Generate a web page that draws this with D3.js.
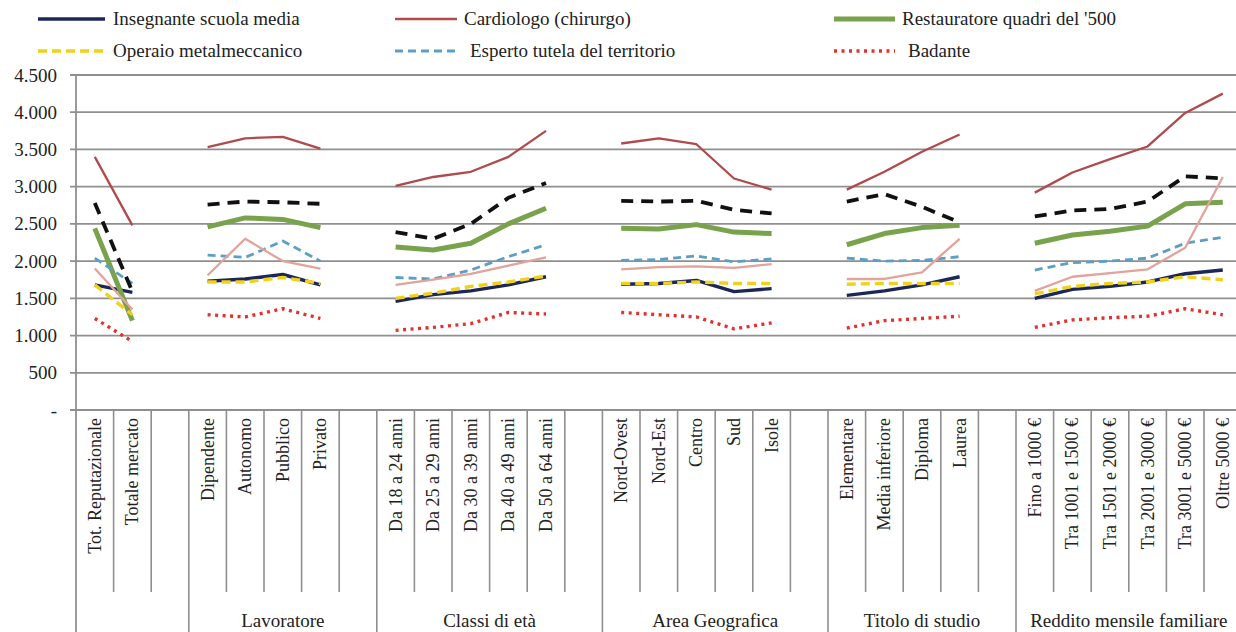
<!DOCTYPE html>
<html>
<head>
<meta charset="utf-8">
<script src="https://cdn.jsdelivr.net/npm/d3@7"></script>
<style>
  html, body { margin: 0; padding: 0; background: #fff; }
  svg { display: block; font-family: "Liberation Serif", "DejaVu Serif", serif; }
</style>
</head>
<body>
<svg id="chart" width="1236" height="632"></svg>
<script>
// Categories along the x axis ("" marks an empty spacer slot between groups)
const categories = [
  "Tot. Reputazionale", "Totale mercato", "",
  "Dipendente", "Autonomo", "Pubblico", "Privato", "",
  "Da 18 a 24 anni", "Da 25 a 29 anni", "Da 30 a 39 anni", "Da 40 a 49 anni", "Da 50 a 64 anni", "",
  "Nord-Ovest", "Nord-Est", "Centro", "Sud", "Isole", "",
  "Elementare", "Media inferiore", "Diploma", "Laurea", "",
  "Fino a 1000 €", "Tra 1001 e 1500 €", "Tra 1501 e 2000 €", "Tra 2001 e 3000 €", "Tra 3001 e 5000 €", "Oltre 5000 €"
];
const groupLabels = ["", "Lavoratore", "Classi di età", "Area Geografica", "Titolo di studio", "Reddito mensile familiare"];
const groupSizes = [3, 5, 6, 6, 5, 6];

const yTicks = [0, 500, 1000, 1500, 2000, 2500, 3000, 3500, 4000, 4500];

// Series values (null = spacer, no point)
const insegnante   = [1680,1580,null, 1730,1760,1820,1680,null, 1460,1550,1600,1680,1790,null, 1690,1700,1740,1590,1630,null, 1540,1600,1680,1790,null, 1500,1620,1660,1720,1830,1880];
const cardiologo   = [3400,2480,null, 3530,3650,3670,3510,null, 3010,3130,3200,3400,3750,null, 3580,3650,3570,3110,2960,null, 2960,3200,3470,3700,null, 2920,3190,3370,3540,3990,4250];
const restauratore = [2440,1200,null, 2460,2580,2560,2450,null, 2190,2150,2240,2500,2710,null, 2440,2430,2490,2390,2370,null, 2220,2370,2450,2480,null, 2240,2350,2400,2470,2770,2790];
const operaio      = [1680,1280,null, 1720,1720,1780,1700,null, 1500,1570,1660,1720,1800,null, 1700,1700,1720,1700,1700,null, 1690,1700,1700,1700,null, 1560,1660,1700,1720,1790,1750];
const esperto      = [2040,1700,null, 2080,2050,2270,2000,null, 1780,1760,1880,2060,2220,null, 2010,2020,2070,1990,2030,null, 2040,2000,2010,2060,null, 1880,1980,2000,2040,2240,2320];
const badante      = [1230,920,null, 1280,1250,1360,1230,null, 1070,1110,1160,1310,1290,null, 1310,1280,1250,1090,1170,null, 1100,1200,1230,1260,null, 1110,1210,1240,1260,1360,1280];
const serieNera    = [2780,1590,null, 2760,2800,2790,2770,null, 2390,2300,2500,2850,3050,null, 2810,2800,2810,2690,2640,null, 2800,2900,2730,2520,null, 2600,2680,2700,2800,3140,3110];
const serieRosa    = [1900,1350,null, 1810,2300,2000,1900,null, 1680,1750,1830,1940,2050,null, 1890,1920,1930,1910,1960,null, 1760,1760,1850,2300,null, 1600,1790,1840,1890,2180,3130];

// Series drawing table (first six appear in the legend)
const series = [
  { name: "Insegnante scuola media",       values: insegnante,   color: "#1c2757", width: 3.4, dash: null,    legend: [0, 0] },
  { name: "Cardiologo (chirurgo)",         values: cardiologo,   color: "#b04a4c", width: 2.3, dash: null,    legend: [1, 0] },
  { name: "Restauratore quadri del '500",  values: restauratore, color: "#78a24c", width: 5,   dash: null,    legend: [2, 0] },
  { name: "Operaio metalmeccanico",        values: operaio,      color: "#f0d21a", width: 3.4, dash: "9,5",   legend: [0, 1] },
  { name: "Esperto tutela del territorio", values: esperto,      color: "#5d9fc4", width: 2.8, dash: "8,5",   legend: [1, 1] },
  { name: "Badante",                       values: badante,      color: "#e5302e", width: 3.4, dash: "3,4.5", legend: [2, 1] },
  { name: "Serie nera",                    values: serieNera,    color: "#111111", width: 3.8, dash: "12,8",  legend: null },
  { name: "Serie rosa",                    values: serieRosa,    color: "#e2a39b", width: 2.3, dash: null,    legend: null }
];

const svg = d3.select("#chart");
const W = 1236, H = 632;
const plotLeft = 76, plotTop = 75, plotBottom = 410, step = 37.6;

const y = d3.scaleLinear().domain([0, 4500]).range([plotBottom, plotTop]);
const x = d3.scaleBand().domain(d3.range(categories.length)).range([plotLeft, plotLeft + step * categories.length]).padding(0);
const cx = i => x(i) + x.bandwidth() / 2;

const fmt = d3.formatLocale({ decimal: ",", thousands: ".", grouping: [3], currency: ["€", ""] }).format(",d");

// Horizontal gridlines with short outer tick marks
svg.append("g").selectAll("line").data(yTicks).join("line")
  .attr("x1", plotLeft - 6).attr("x2", W)
  .attr("y1", d => y(d)).attr("y2", d => y(d))
  .attr("stroke", "#8f8f8f").attr("stroke-width", 1.8);

// Y axis labels
svg.append("g").selectAll("text").data(yTicks).join("text")
  .attr("x", 57).attr("y", d => y(d) + 6.5)
  .attr("text-anchor", "end")
  .attr("font-size", 19).attr("fill", "#222")
  .text(d => d === 0 ? "-" : fmt(d));

// Left axis line
svg.append("line")
  .attr("x1", plotLeft).attr("x2", plotLeft).attr("y1", plotTop).attr("y2", H)
  .attr("stroke", "#8f8f8f").attr("stroke-width", 1.8);

// Category separators and group separators below the axis
const boundaries = d3.range(1, categories.length);
const groupEnds = [];
groupSizes.reduce((acc, s) => { groupEnds.push(acc + s); return acc + s; }, 0);
svg.append("g").selectAll("line").data(boundaries).join("line")
  .attr("x1", d => x(d)).attr("x2", d => x(d))
  .attr("y1", plotBottom)
  .attr("y2", d => groupEnds.includes(d) ? H : 592)
  .attr("stroke", "#8f8f8f").attr("stroke-width", 1.6);

// Rotated category labels
svg.append("g").selectAll("text").data(categories).join("text")
  .attr("transform", (d, i) => `translate(${cx(i) + 6},418) rotate(-90)`)
  .attr("text-anchor", "end")
  .attr("font-size", 18).attr("fill", "#222")
  .text(d => d);

// Group labels
let start = 0;
const groupPos = groupSizes.map((s, k) => {
  const g = { label: groupLabels[k], from: start, to: start + s };
  start += s;
  return g;
});
svg.append("g").selectAll("text").data(groupPos).join("text")
  .attr("x", d => (x(d.from) + x(d.to - 1) + x.bandwidth()) / 2)
  .attr("y", 627)
  .attr("text-anchor", "middle")
  .attr("font-size", 19).attr("fill", "#222")
  .text(d => d.label);

// Series lines (straight segments, broken at spacer slots)
const line = d3.line()
  .defined(d => d.v !== null)
  .x(d => cx(d.i))
  .y(d => y(d.v))
  .curve(d3.curveLinear);

svg.append("g").selectAll("path").data(series).join("path")
  .attr("d", s => line(s.values.map((v, i) => ({ i, v }))))
  .attr("fill", "none")
  .attr("stroke", s => s.color)
  .attr("stroke-width", s => s.width)
  .attr("stroke-dasharray", s => s.dash)
  .attr("stroke-linejoin", "round");

// Legend
const legCols = [{ x1: 38, x2: 105, tx: 113 }, { x1: 395, x2: 457, tx: 464 }, { x1: 834, x2: 895, tx: 902 }];
const legRows = [19, 51];
const leg = svg.append("g").selectAll("g").data(series.filter(s => s.legend)).join("g");
leg.append("line")
  .attr("x1", s => legCols[s.legend[0]].x1).attr("x2", s => legCols[s.legend[0]].x2)
  .attr("y1", s => legRows[s.legend[1]]).attr("y2", s => legRows[s.legend[1]])
  .attr("stroke", s => s.color).attr("stroke-width", s => s.width)
  .attr("stroke-dasharray", s => s.dash);
leg.append("text")
  .attr("x", s => legCols[s.legend[0]].tx + (s.legend[1] === 1 && s.legend[0] > 0 ? 6 : 0))
  .attr("y", s => legRows[s.legend[1]] + 6)
  .attr("font-size", 19).attr("fill", "#222")
  .text(s => s.name);
</script>
</body>
</html>
